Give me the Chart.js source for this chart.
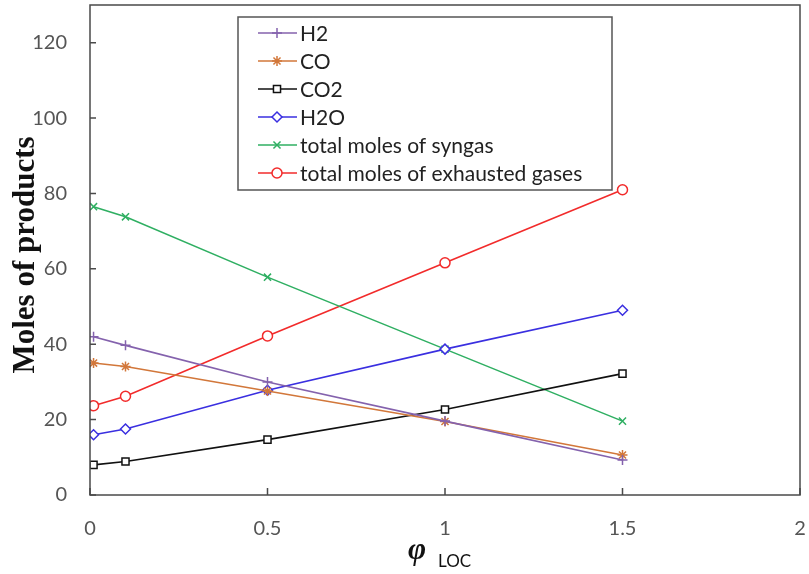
<!DOCTYPE html>
<html lang="en">
<head>
<meta charset="UTF-8">
<title>Moles of products vs phi LOC</title>
<script src="https://cdn.jsdelivr.net/npm/chart.js@4.4.1/dist/chart.umd.min.js"></script>
<style>
    html, body { margin: 0; padding: 0; background: #fff; }
    #wrap { width: 809px; height: 574px; }
</style>
</head>
<body>
<div id="wrap"><canvas id="prodChart" width="809" height="574"></canvas></div>
<script>
// values
const phiLoc = [0.01, 0.1, 0.5, 1, 1.5];
const h2 = [42, 39.7, 30, 19.6, 9.3];
const co = [35, 34.1, 27.6, 19.5, 10.6];
const co2 = [8, 8.9, 14.7, 22.7, 32.2];
const h2o = [16, 17.5, 27.8, 38.7, 49];
const syngas = [76.5, 73.8, 57.8, 38.7, 19.6];
const exhausted = [23.7, 26.2, 42.2, 61.6, 81];

const seriesNames = ['H2', 'CO', 'CO2', 'H2O', 'total moles of syngas', 'total moles of exhausted gases'];
const xTicks = [0, 0.5, 1, 1.5, 2];
const yTicks = [0, 20, 40, 60, 80, 100, 120];

function pts(vals) {
    return vals.map((v, i) => ({ x: phiLoc[i], y: v }));
}

function makeSet(label, vals, color, style, fill) {
    return {
        label: label,
        data: pts(vals),
        borderColor: color,
        backgroundColor: color,
        pointBackgroundColor: fill ? '#fff' : color,
        pointBorderColor: color,
        pointStyle: style,
        pointRadius: 5,
        pointBorderWidth: 1.5,
        borderWidth: 1.6,
        tension: 0
    };
}

// no extra room for end labels: plot box is fixed
function noPad(scale) {
    scale.paddingTop = 0;
    scale.paddingBottom = 0;
    scale.paddingLeft = 0;
    scale.paddingRight = 0;
}

// plot box, inward ticks, legend box and axis titles
const decorations = {
    id: 'decorations',
    afterDraw(chart) {
        const ctx = chart.ctx;
        const a = chart.chartArea;
        const xs = chart.scales.x, ys = chart.scales.y;
        ctx.save();
        ctx.strokeStyle = '#4a4a4a';
        ctx.lineWidth = 1.5;
        ctx.strokeRect(a.left, a.top, a.right - a.left, a.bottom - a.top);

        ctx.beginPath();
        yTicks.forEach(v => {
            const y = ys.getPixelForValue(v);
            ctx.moveTo(a.left, y);
            ctx.lineTo(a.left + 6, y);
        });
        xTicks.forEach(v => {
            const x = xs.getPixelForValue(v);
            ctx.moveTo(x, a.bottom);
            ctx.lineTo(x, a.bottom - 7);
        });
        ctx.stroke();

        // legend
        const lx = 238, ly = 17, lw = 374, lh = 173;
        ctx.fillStyle = '#fff';
        ctx.fillRect(lx, ly, lw, lh);
        ctx.strokeStyle = '#555';
        ctx.lineWidth = 1.5;
        ctx.strokeRect(lx, ly, lw, lh);
        ctx.font = '21px Lato, "Liberation Sans", sans-serif';
        ctx.textBaseline = 'middle';
        ctx.textAlign = 'left';
        chart.data.datasets.forEach((ds, i) => {
            const y = 33 + i * 28;
            ctx.strokeStyle = ds.borderColor;
            ctx.lineWidth = 1.6;
            ctx.beginPath();
            ctx.moveTo(258, y);
            ctx.lineTo(297, y);
            ctx.stroke();
            ctx.fillStyle = ds.pointBackgroundColor;
            ctx.strokeStyle = ds.pointBorderColor;
            ctx.lineWidth = 1.5;
            Chart.helpers.drawPoint(ctx, {
                pointStyle: ds.pointStyle,
                radius: 5,
                rotation: 0,
                borderWidth: 1.5
            }, 277, y);
            ctx.fillStyle = '#222';
            ctx.fillText(ds.label, 300, y + 1);
        });

        // y title
        ctx.fillStyle = '#111';
        ctx.font = 'bold 31px "Liberation Serif", "DejaVu Serif", serif';
        ctx.textAlign = 'center';
        ctx.textBaseline = 'alphabetic';
        ctx.translate(34, 255);
        ctx.rotate(-Math.PI / 2);
        ctx.fillText('Moles of products', 0, 0);
        ctx.restore();

        // x title: phi with LOC subscript
        ctx.save();
        ctx.fillStyle = '#111';
        ctx.textBaseline = 'alphabetic';
        ctx.textAlign = 'left';
        ctx.font = 'bold italic 31px "Liberation Serif", "DejaVu Serif", serif';
        ctx.fillText('\u03C6', 408, 559);
        ctx.font = '17px Lato, "Liberation Sans", sans-serif';
        ctx.fillText('LOC', 438, 567);
        ctx.restore();
    }
};

new Chart(document.getElementById('prodChart'), {
    type: 'line',
    data: {
        datasets: [
            makeSet(seriesNames[0], h2, '#8462ad', 'cross', false),
            makeSet(seriesNames[1], co, '#d2773a', 'star', false),
            makeSet(seriesNames[2], co2, '#111111', 'rect', true),
            makeSet(seriesNames[3], h2o, '#3a2fe0', 'rectRot', true),
            makeSet(seriesNames[4], syngas, '#2faf62', 'crossRot', false),
            makeSet(seriesNames[5], exhausted, '#f22b2b', 'circle', true)
        ]
    },
    options: {
        responsive: false,
        animation: false,
        layout: { autoPadding: false, padding: { top: 5, right: 9, left: 0, bottom: 0 } },
        plugins: {
            legend: { display: false },
            tooltip: { enabled: false }
        },
        scales: {
            x: {
                type: 'linear',
                min: 0,
                max: 2,
                afterFit(scale) { scale.height = 79; noPad(scale); },
                afterBuildTicks(scale) { scale.ticks = xTicks.map(v => ({ value: v })); },
                grid: { display: false, drawTicks: false },
                border: { display: false },
                ticks: {
                    padding: 22,
                    color: '#555',
                    callback: v => String(v),
                    font: { family: 'Lato, "Liberation Sans", sans-serif', size: 20 }
                }
            },
            y: {
                min: 0,
                max: 130,
                afterFit(scale) { scale.width = 90; noPad(scale); },
                afterBuildTicks(scale) { scale.ticks = yTicks.map(v => ({ value: v })); },
                grid: { display: false, drawTicks: false },
                border: { display: false },
                ticks: {
                    padding: 23,
                    color: '#555',
                    font: { family: 'Lato, "Liberation Sans", sans-serif', size: 20 }
                }
            }
        }
    },
    plugins: [decorations]
});
</script>
</body>
</html>
